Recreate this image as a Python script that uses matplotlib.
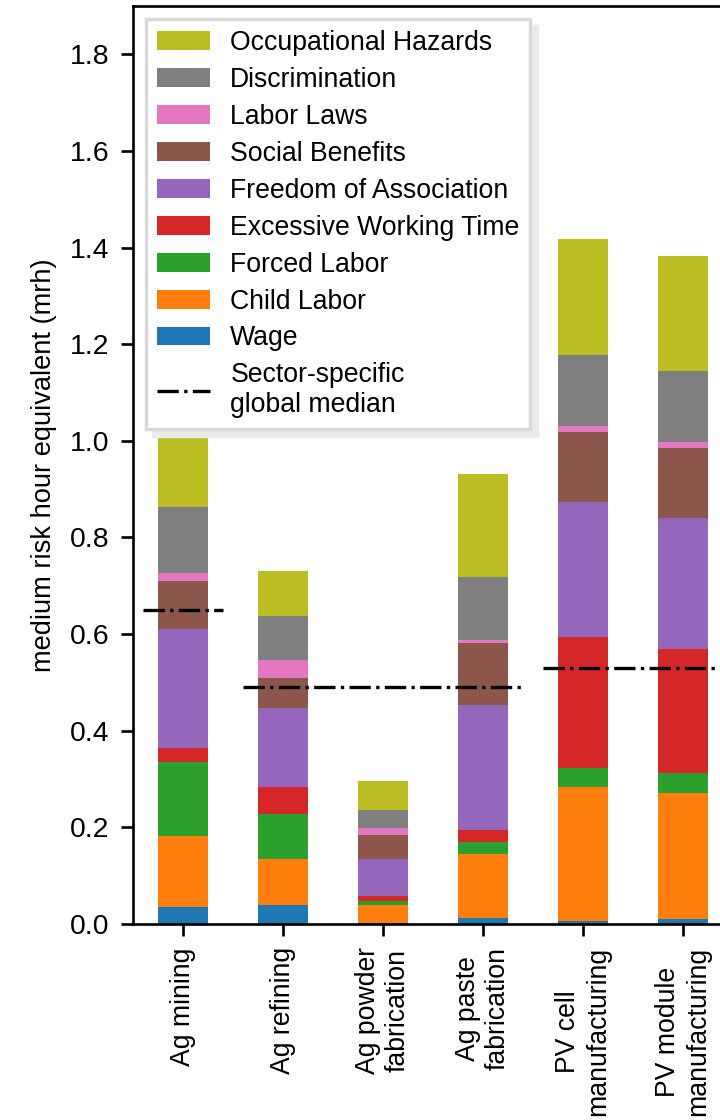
import numpy as np
import matplotlib.pyplot as plt
from matplotlib.lines import Line2D

plt.rcParams['font.family'] = ['Liberation Sans', 'DejaVu Sans']

sectors = ["Ag mining", "Ag refining", "Ag powder\nfabrication", "Ag paste\nfabrication",
           "PV cell\nmanufacturing", "PV module\nmanufacturing"]

# risk contributions per social indicator (mrh), one value per sector
wage = [0.036, 0.040, 0.002, 0.013, 0.007, 0.010]
child_labor = [0.147, 0.095, 0.038, 0.131, 0.277, 0.262]
forced_labor = [0.153, 0.093, 0.008, 0.026, 0.038, 0.040]
working_time = [0.028, 0.056, 0.009, 0.025, 0.273, 0.258]
association = [0.246, 0.164, 0.078, 0.259, 0.279, 0.271]
social_benefits = [0.099, 0.062, 0.050, 0.128, 0.145, 0.145]
labor_laws = [0.018, 0.037, 0.013, 0.005, 0.011, 0.012]
discrimination = [0.137, 0.091, 0.037, 0.131, 0.147, 0.146]
hazards = [0.147, 0.093, 0.062, 0.214, 0.240, 0.238]

# sector-specific global medians: value, first sector, last sector
median_vals = [0.65, 0.49, 0.53]
median_groups = [(0, 0), (1, 3), (4, 5)]

indicators = [
    ("Wage", wage, "tab:blue"),
    ("Child Labor", child_labor, "tab:orange"),
    ("Forced Labor", forced_labor, "tab:green"),
    ("Excessive Working Time", working_time, "tab:red"),
    ("Freedom of Association", association, "tab:purple"),
    ("Social Benefits", social_benefits, "tab:brown"),
    ("Labor Laws", labor_laws, "tab:pink"),
    ("Discrimination", discrimination, "tab:gray"),
    ("Occupational Hazards", hazards, "tab:olive"),
]

fig = plt.figure(figsize=(3.0, 1120 / 240), dpi=240)
ax = fig.add_axes([133 / 720, 196 / 1120, 600 / 720, 918 / 1120])

x = np.arange(len(sectors))
bottom = np.zeros(len(sectors))
handles = []
for name, vals, col in indicators:
    b = ax.bar(x, vals, 0.5, bottom=bottom, color=col, label=name)
    bottom += np.array(vals)
    handles.append(b)

for m, (a, e) in zip(median_vals, median_groups):
    ax.hlines(m, a - 0.4, e + 0.4, colors="black", linestyles="-.", linewidth=1)

ax.set_xlim(-0.5, 5.5)
ax.set_ylim(0, 1.9)
ax.set_yticks(np.arange(0, 1.81, 0.2))
ax.set_xticks(x)
ax.set_xticklabels(sectors, rotation=90, fontsize=8)
ax.tick_params(axis="y", labelsize=8.5)
ax.set_ylabel("medium risk hour equivalent (mrh)", fontsize=8.2)

med_handle = Line2D([], [], color="black", linestyle="-.", linewidth=1)
leg_handles = handles[::-1] + [med_handle]
leg_labels = [h.get_label() for h in handles[::-1]] + ["Sector-specific\nglobal median"]
leg = ax.legend(leg_handles, leg_labels, loc="upper left", fontsize=8,
                labelspacing=0.41, handletextpad=0.75, fancybox=False,
                edgecolor="0.85", shadow={"color": "0.92", "alpha": 1})

fig.savefig("out.png", dpi=240)
